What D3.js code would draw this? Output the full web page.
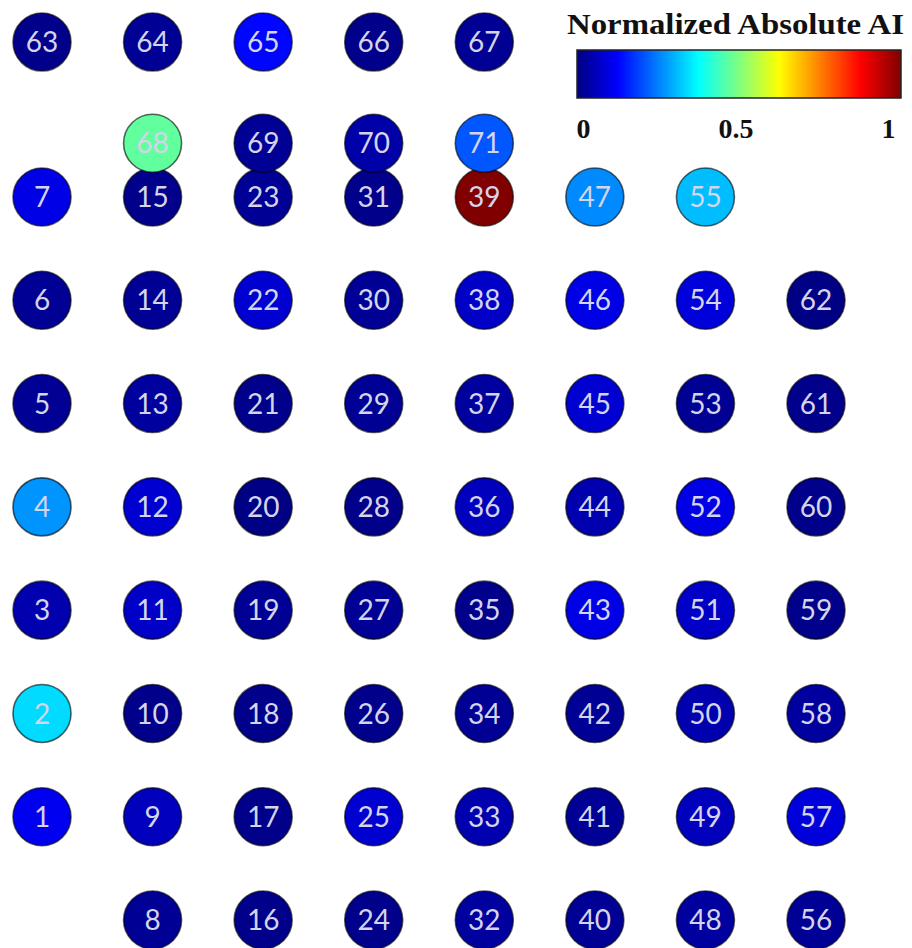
<!DOCTYPE html>
<html>
<head>
<meta charset="utf-8">
<script src="https://cdn.jsdelivr.net/npm/d3@7"></script>
<style>
  html, body { margin: 0; padding: 0; background: #ffffff; }
  svg { display: block; }
</style>
</head>
<body>
<svg id="chart" width="912" height="948"></svg>
<script>
// Electrode numbers and their normalized absolute AI
const electrodes = [
   1,  2,  3,  4,  5,  6,  7,
   8,  9, 10, 11, 12, 13, 14, 15,
  16, 17, 18, 19, 20, 21, 22, 23,
  24, 25, 26, 27, 28, 29, 30, 31,
  32, 33, 34, 35, 36, 37, 38, 39,
  40, 41, 42, 43, 44, 45, 46, 47,
  48, 49, 50, 51, 52, 53, 54, 55,
  56, 57, 58, 59, 60, 61, 62,
  63, 64, 65, 66, 67,
  68, 69, 70, 71
];
const normalizedAI = [
  0.11, 0.34, 0.045, 0.27, 0.02, 0.02, 0.10,
  0.02, 0.06, 0.01, 0.07, 0.08, 0.03, 0.02, 0.01,
  0.01, 0.01, 0.01, 0.02, 0.005, 0.01, 0.08, 0.02,
  0.01, 0.08, 0.01, 0.02, 0.01, 0.02, 0.02, 0.01,
  0.03, 0.045, 0.02, 0.01, 0.06, 0.03, 0.07, 1.00,
  0.02, 0.02, 0.02, 0.10, 0.045, 0.08, 0.10, 0.26,
  0.03, 0.06, 0.045, 0.07, 0.10, 0.02, 0.09, 0.31,
  0.02, 0.09, 0.03, 0.01, 0.01, 0.01, 0.005,
  0.01, 0.02, 0.13, 0.01, 0.02,
  0.47, 0.02, 0.04, 0.21
];
const legendTitle = "Normalized Absolute AI";
const legendTicks = [0, 0.5, 1];

// Jet colormap stops
const jetStops = [0, 0.125, 0.375, 0.625, 0.875, 1];
const jetColors = ["#000080", "#0000ff", "#00ffff", "#ffff00", "#ff0000", "#800000"];

const color = d3.scaleLinear().domain(jetStops).range(jetColors).clamp(true);

// Grid placement of each electrode: main 8x8 array (minus corners) plus two rows above
function gridCell(id) {
  if (id <= 62) return { col: Math.floor(id / 8), row: 7 - (id % 8) };
  if (id <= 67) return { col: id - 63, row: -1.5 };
  return { col: id - 67, row: -0.52 };
}

const svg = d3.select("#chart");
const x = d3.scaleLinear().domain([0, 7]).range([42, 816]);
const y = d3.scaleLinear().domain([0, 7]).range([197, 920]);
const radius = 29;

const nodes = electrodes.map((id, i) => Object.assign({ id, value: normalizedAI[i] }, gridCell(id)));

const g = svg.append("g");
const node = g.selectAll("g.electrode")
  .data(nodes)
  .join("g")
  .attr("class", "electrode")
  .attr("transform", d => `translate(${x(d.col)},${y(d.row)})`);

node.append("circle")
  .attr("r", radius)
  .attr("fill", d => color(d.value))
  .attr("stroke", "#000000")
  .attr("stroke-opacity", 0.6)
  .attr("stroke-width", 1.6);

node.append("text")
  .attr("text-anchor", "middle")
  .attr("dy", "0.36em")
  .attr("font-family", "Lato, 'Open Sans', sans-serif")
  .attr("font-size", 28)
  .attr("fill", "#d4d4ea")
  .text(d => d.id);

// Colour bar legend
const bar = { x0: 577, x1: 901, y0: 50, h: 48 };
const defs = svg.append("defs");
const grad = defs.append("linearGradient").attr("id", "jet")
  .attr("x1", "0%").attr("x2", "100%").attr("y1", "0%").attr("y2", "0%");
grad.selectAll("stop")
  .data(jetStops)
  .join("stop")
  .attr("offset", d => d * 100 + "%")
  .attr("stop-color", d => color(d));

svg.append("text")
  .attr("x", 567)
  .attr("y", 34)
  .attr("font-family", "'Liberation Serif', 'Times New Roman', serif")
  .attr("font-weight", "bold")
  .attr("font-size", 30)
  .attr("textLength", 337)
  .attr("lengthAdjust", "spacingAndGlyphs")
  .attr("fill", "#111111")
  .text(legendTitle);

svg.append("rect")
  .attr("x", bar.x0).attr("y", bar.y0)
  .attr("width", bar.x1 - bar.x0).attr("height", bar.h)
  .attr("fill", "url(#jet)")
  .attr("stroke", "#222222")
  .attr("stroke-width", 1.5);

const legendScale = d3.scaleLinear().domain([0, 1]).range([583, 888]);
const axis = svg.append("g")
  .attr("transform", `translate(0, 118)`)
  .call(d3.axisBottom(legendScale).tickValues(legendTicks).tickSize(0).tickPadding(0)
    .tickFormat(d => d));
axis.select(".domain").remove();
axis.selectAll("text")
  .attr("font-family", "'Liberation Serif', 'Times New Roman', serif")
  .attr("font-weight", "bold")
  .attr("font-size", 28)
  .attr("fill", "#111111");
</script>
</body>
</html>
